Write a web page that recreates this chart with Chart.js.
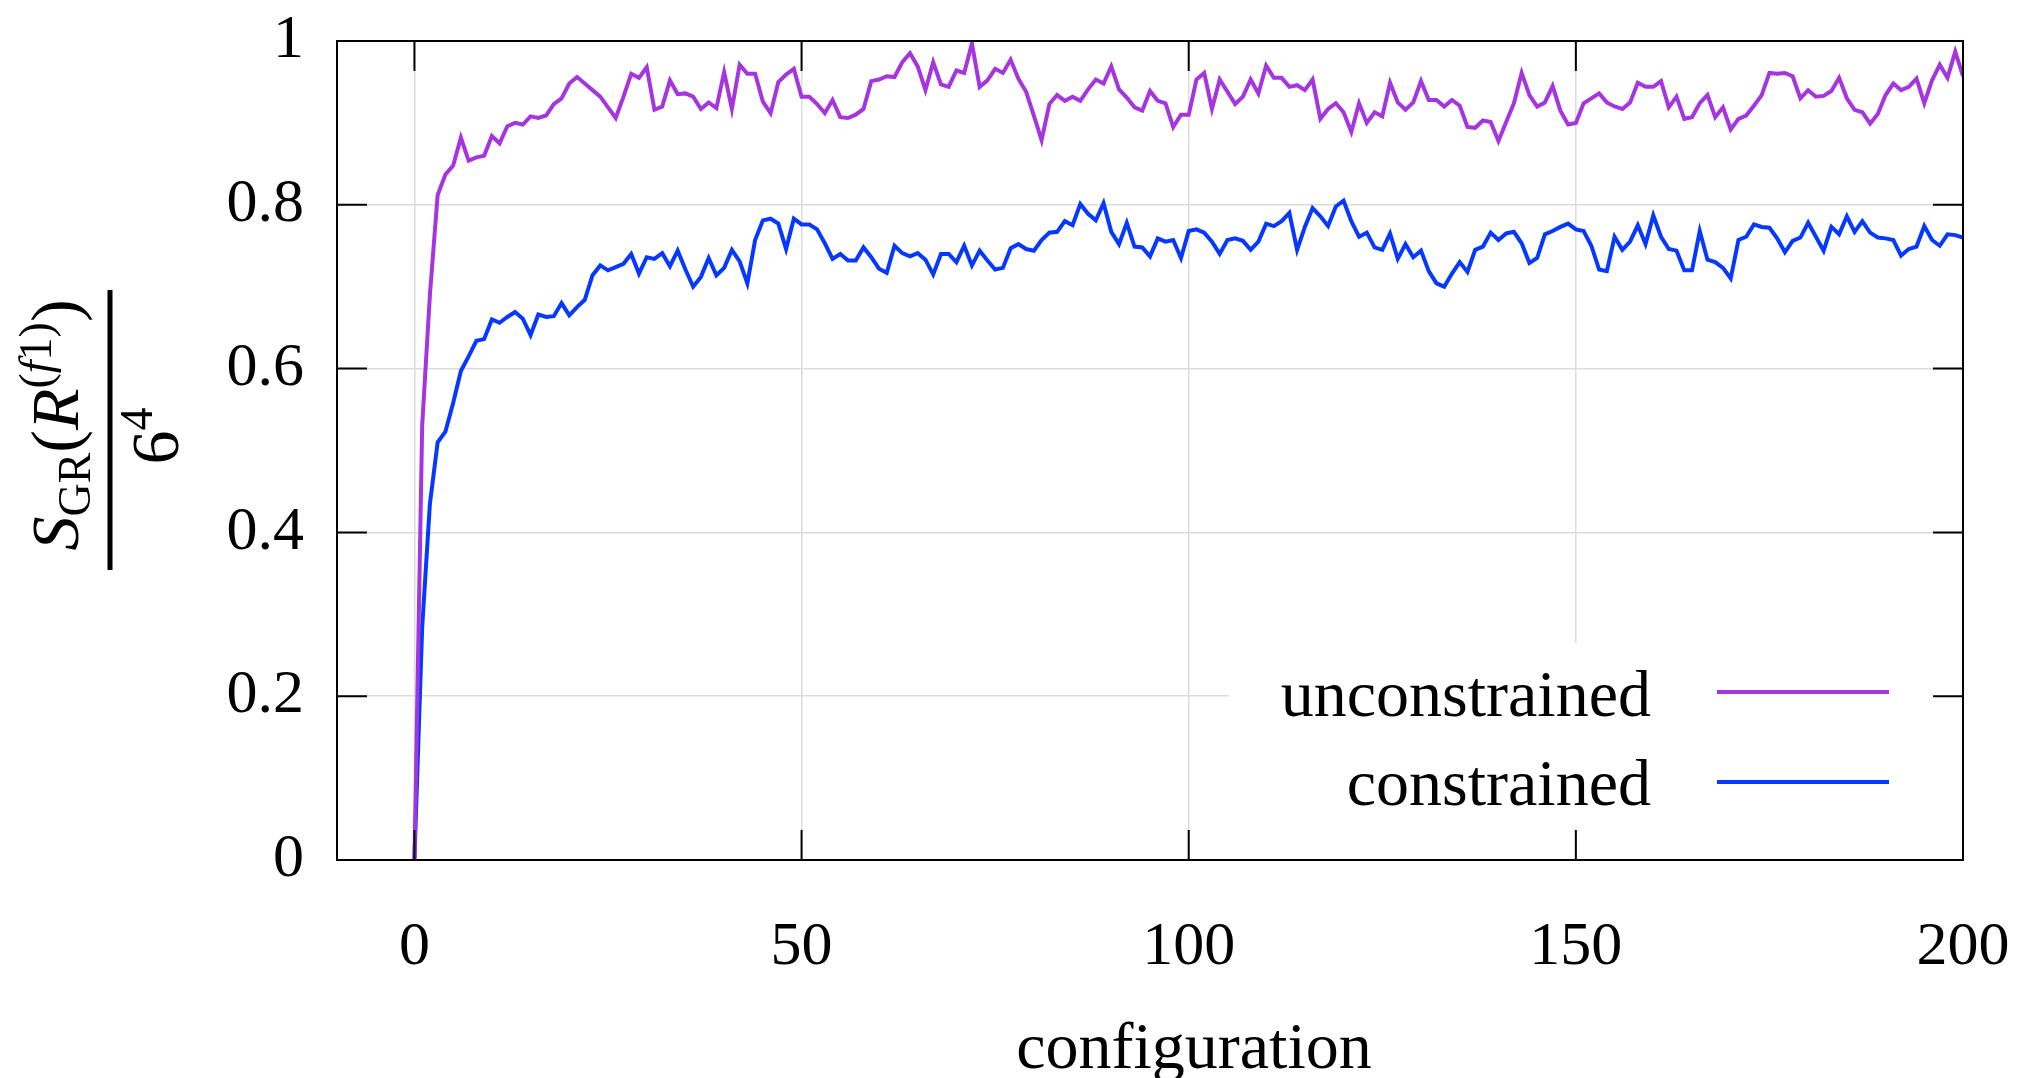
<!DOCTYPE html>
<html>
<head>
<meta charset="utf-8">
<script src="https://cdn.jsdelivr.net/npm/chart.js@4.4.1/dist/chart.umd.min.js"></script>
<style>
  body { margin: 0; background: #fff; }
  #wrap { width: 2018px; height: 1078px; }
</style>
</head>
<body>
<div id="wrap"><canvas id="chart" width="2018" height="1078"></canvas></div>
<script>
// configuration index on the x axis
const configs = Array.from({ length: 201 }, (_, i) => i);

const xTicks = [0, 50, 100, 150, 200];
const yTicks = [0, 0.2, 0.4, 0.6, 0.8, 1];

const seriesNames = ['unconstrained', 'constrained'];

const unconstrained = [
  0, 0.53, 0.69, 0.812, 0.837, 0.848, 0.882, 0.854, 0.858, 0.86,
  0.884, 0.875, 0.896, 0.9, 0.898, 0.908, 0.906, 0.909, 0.923, 0.93,
  0.948, 0.956, 0.948, 0.94, 0.932, 0.919, 0.906, 0.932, 0.96, 0.955,
  0.968, 0.916, 0.92, 0.952, 0.935, 0.936, 0.932, 0.917, 0.925, 0.918,
  0.962, 0.917, 0.971, 0.96, 0.96, 0.926, 0.912, 0.95, 0.959, 0.966,
  0.932, 0.932, 0.923, 0.912, 0.928, 0.907, 0.906, 0.91, 0.917, 0.951,
  0.953, 0.957, 0.956, 0.974, 0.985, 0.969, 0.94, 0.974, 0.947, 0.944,
  0.964, 0.961, 0.997, 0.944, 0.952, 0.966, 0.961, 0.977, 0.954, 0.938,
  0.909, 0.879, 0.923, 0.934, 0.927, 0.932, 0.927, 0.941, 0.953, 0.948,
  0.969, 0.941, 0.931, 0.919, 0.915, 0.939, 0.927, 0.924, 0.895, 0.91,
  0.91, 0.953, 0.961, 0.917, 0.953, 0.938, 0.923, 0.932, 0.953, 0.936,
  0.97, 0.955, 0.955, 0.944, 0.946, 0.94, 0.953, 0.905, 0.917, 0.924,
  0.913, 0.889, 0.924, 0.9, 0.913, 0.908, 0.949, 0.925, 0.916, 0.925,
  0.951, 0.928, 0.928, 0.92, 0.928, 0.921, 0.895, 0.894, 0.903, 0.901,
  0.878, 0.901, 0.924, 0.961, 0.934, 0.92, 0.925, 0.945, 0.915, 0.898,
  0.9, 0.924, 0.93, 0.936, 0.925, 0.92, 0.917, 0.925, 0.949, 0.944,
  0.944, 0.951, 0.919, 0.932, 0.905, 0.907, 0.924, 0.934, 0.907, 0.919,
  0.892, 0.905, 0.909, 0.921, 0.934, 0.961, 0.96, 0.961, 0.957, 0.93,
  0.94, 0.932, 0.933, 0.939, 0.955, 0.93, 0.916, 0.913, 0.899, 0.911,
  0.934, 0.948, 0.94, 0.944, 0.954, 0.924, 0.952, 0.971, 0.955, 0.987,
  0.957
];

const constrained = [
  0, 0.284, 0.435, 0.51, 0.523, 0.558, 0.597, 0.615, 0.634, 0.636,
  0.66, 0.656, 0.663, 0.669, 0.661, 0.641, 0.666, 0.663, 0.664, 0.68,
  0.665, 0.675, 0.684, 0.714, 0.726, 0.72, 0.724, 0.728, 0.74, 0.716,
  0.736, 0.734, 0.741, 0.725, 0.744, 0.721, 0.7, 0.712, 0.735, 0.714,
  0.723, 0.745, 0.731, 0.704, 0.757, 0.781, 0.783, 0.777, 0.746, 0.783,
  0.776, 0.776, 0.77, 0.753, 0.734, 0.74, 0.732, 0.732, 0.748, 0.736,
  0.722, 0.717, 0.75, 0.741, 0.737, 0.741, 0.733, 0.715, 0.74, 0.74,
  0.73, 0.75, 0.726, 0.744, 0.732, 0.721, 0.723, 0.747, 0.752, 0.746,
  0.744, 0.757, 0.766, 0.767, 0.78, 0.775, 0.801, 0.789, 0.781, 0.802,
  0.767, 0.752, 0.778, 0.749, 0.748, 0.737, 0.759, 0.755, 0.757, 0.735,
  0.768, 0.77, 0.766, 0.755, 0.74, 0.757, 0.759, 0.756, 0.745, 0.755,
  0.777, 0.774, 0.78, 0.79, 0.745, 0.773, 0.796, 0.786, 0.774, 0.798,
  0.805, 0.78, 0.761, 0.766, 0.748, 0.745, 0.765, 0.734, 0.752, 0.736,
  0.744, 0.719, 0.704, 0.7, 0.716, 0.73, 0.718, 0.745, 0.749, 0.766,
  0.757, 0.765, 0.767, 0.753, 0.729, 0.735, 0.764, 0.768, 0.773, 0.777,
  0.77, 0.768, 0.75, 0.721, 0.719, 0.761, 0.745, 0.755, 0.775, 0.752,
  0.787, 0.761, 0.746, 0.744, 0.72, 0.72, 0.768, 0.733, 0.73, 0.723,
  0.71, 0.757, 0.761, 0.776, 0.773, 0.772, 0.759, 0.742, 0.756, 0.76,
  0.778, 0.761, 0.744, 0.773, 0.764, 0.786, 0.767, 0.78, 0.766, 0.76,
  0.759, 0.757, 0.738, 0.746, 0.749, 0.774, 0.757, 0.75, 0.764, 0.763,
  0.76
];

const colors = ['#a535de', '#0638ff'];
const SERIF = '"Liberation Serif", "Times New Roman", serif';

Chart.defaults.font.family = SERIF;
Chart.defaults.color = '#000';

// frame, inward tick marks, legend and axis titles (gnuplot look)
const decorations = {
  id: 'decorations',
  beforeDatasetsDraw(chart) {
    const ctx = chart.ctx;
    const a = chart.chartArea;
    // opaque legend box hides the grid behind it
    ctx.save();
    ctx.fillStyle = '#fff';
    ctx.fillRect(1229, 643, a.right - 1229 - 1, a.bottom - 643 - 1);
    ctx.restore();
  },
  afterDatasetsDraw(chart) {
    const ctx = chart.ctx;
    const a = chart.chartArea;
    const xs = chart.scales.x, ys = chart.scales.y;
    ctx.save();
    ctx.strokeStyle = '#000';
    ctx.lineWidth = 2;
    ctx.strokeRect(a.left, a.top, a.right - a.left, a.bottom - a.top);
    ctx.beginPath();
    xTicks.forEach(v => {
      const px = xs.getPixelForValue(v);
      ctx.moveTo(px, a.bottom); ctx.lineTo(px, a.bottom - 30);
      ctx.moveTo(px, a.top); ctx.lineTo(px, a.top + 30);
    });
    yTicks.forEach(v => {
      const py = ys.getPixelForValue(v);
      ctx.moveTo(a.left, py); ctx.lineTo(a.left + 30, py);
      ctx.moveTo(a.right, py); ctx.lineTo(a.right - 30, py);
    });
    ctx.stroke();

    // legend
    ctx.font = '66px ' + SERIF;
    ctx.fillStyle = '#000';
    ctx.textAlign = 'right';
    ctx.textBaseline = 'alphabetic';
    const rows = [[716, 692], [805, 782]];
    seriesNames.forEach((name, i) => {
      ctx.fillText(name, 1651, rows[i][0]);
      ctx.strokeStyle = colors[i];
      ctx.lineWidth = 4;
      ctx.beginPath();
      ctx.moveTo(1717, rows[i][1]);
      ctx.lineTo(1889, rows[i][1]);
      ctx.stroke();
    });

    // x title
    ctx.textAlign = 'center';
    ctx.fillText('configuration', 1194, 1068);

    // y title: S_GR(R^(f1)) / 6^4, rotated
    ctx.translate(110, 430);
    ctx.rotate(-Math.PI / 2);
    ctx.fillRect(-140, -2.5, 280, 5);
    const big = '68px ' + SERIF, bigIt = 'italic 68px ' + SERIF;
    const sm = '46px ' + SERIF, smIt = 'italic 46px ' + SERIF;
    const drawPieces = (pieces, center, base) => {
      ctx.textAlign = 'left';
      let w = 0;
      pieces.forEach(p => { ctx.font = p[0]; w += ctx.measureText(p[1]).width; });
      let x = center - w / 2;
      pieces.forEach(p => {
        ctx.font = p[0];
        ctx.fillText(p[1], x, base + p[2]);
        x += ctx.measureText(p[1]).width;
      });
    };
    drawPieces([
      [bigIt, 'S', 0], [sm, 'GR', 12], [big, '(', 0], [bigIt, 'R', 0],
      [sm, '(', -27], [smIt, 'f', -27], [sm, '1', -27], [sm, ')', -27], [big, ')', 0]
    ], 5, -32);
    drawPieces([[big, '6', 0], [sm, '4', -26]], -6, 68);
    ctx.restore();
  }
};

const ctx = document.getElementById('chart').getContext('2d');
new Chart(ctx, {
  type: 'line',
  data: {
    labels: configs,
    datasets: [
      {
        label: seriesNames[0],
        data: unconstrained,
        borderColor: colors[0],
        borderWidth: 4,
        pointRadius: 0,
        tension: 0,
        fill: false,
      },
      {
        label: seriesNames[1],
        data: constrained,
        borderColor: colors[1],
        borderWidth: 4,
        pointRadius: 0,
        tension: 0,
        fill: false,
      },
    ],
  },
  options: {
    responsive: false,
    animation: false,
    layout: { autoPadding: false, padding: { left: 0, right: 55, top: 41, bottom: 0 } },
    plugins: { legend: { display: false }, tooltip: { enabled: false } },
    scales: {
      x: {
        type: 'linear',
        min: -10,
        max: 200,
        afterBuildTicks: axis => { axis.ticks = xTicks.map(v => ({ value: v })); },
        afterFit: scale => {
          scale.height = 218;
          scale.paddingLeft = 0; scale.paddingRight = 0;
        },
        grid: { color: '#dcdcdc', lineWidth: 1.5, drawTicks: false },
        border: { display: false },
        ticks: { font: { family: SERIF, size: 62 }, padding: 51, maxRotation: 0 },
      },
      y: {
        min: 0,
        max: 1,
        afterBuildTicks: axis => { axis.ticks = yTicks.map(v => ({ value: v })); },
        afterFit: scale => {
          scale.width = 337;
          scale.paddingTop = 0; scale.paddingBottom = 0;
        },
        grid: { color: '#dcdcdc', lineWidth: 1.5, drawTicks: false },
        border: { display: false },
        ticks: {
          font: { family: SERIF, size: 62 },
          padding: 33,
          callback: v => String(parseFloat(v.toFixed(1))),
        },
      },
    },
  },
  plugins: [decorations],
});
</script>
</body>
</html>
